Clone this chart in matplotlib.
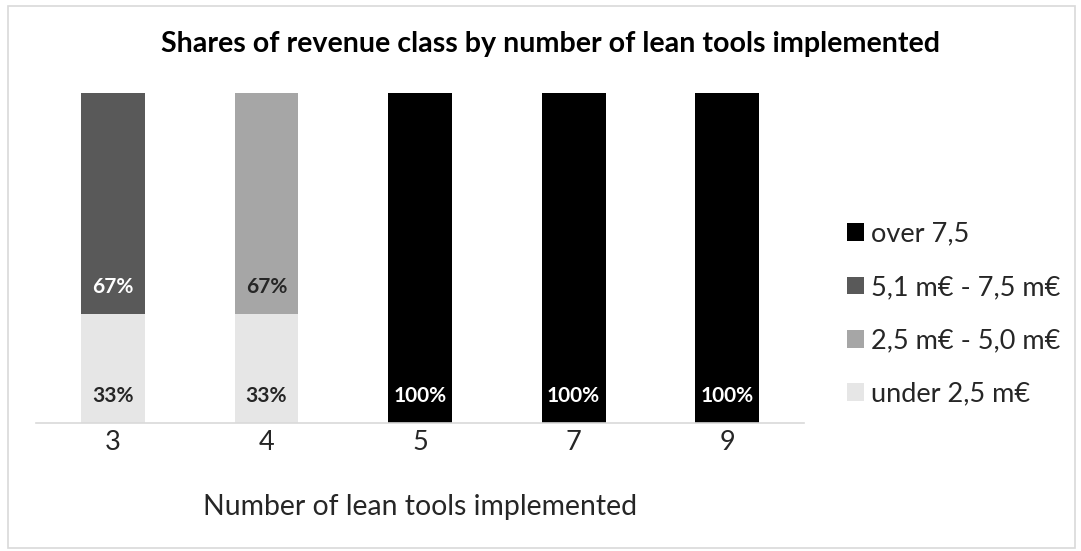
import matplotlib
matplotlib.use("Agg")
import matplotlib.pyplot as plt
from matplotlib.patches import Rectangle
import numpy as np

plt.rcParams['font.family'] = ['Lato', 'DejaVu Sans']

# data
categories = ['3', '4', '5', '7', '9']
series_names = ['under 2,5 m€', '2,5 m€ - 5,0 m€', '5,1 m€ - 7,5 m€', 'over 7,5']
under_25 = [33, 33, 0, 0, 0]
mid_25_50 = [0, 67, 0, 0, 0]
mid_51_75 = [67, 0, 0, 0, 0]
over_75 = [0, 0, 100, 100, 100]
colors = ['#e6e6e6', '#a6a6a6', '#595959', '#000000']
label_colors = ['#262626', '#262626', 'white', 'white']

fig = plt.figure(figsize=(10.81, 5.51), dpi=100)
ax = fig.add_axes([0.0333, 0.2323, 0.7105, 0.599])

# grey frame round the whole chart
fig.patches.append(Rectangle((0.007, 0.005), 0.987, 0.985, transform=fig.transFigure,
                             fill=False, edgecolor='#d9d9d9', linewidth=1.2))

x = np.arange(len(categories))
bottom = np.zeros(len(categories))
handles = []
for vals, name, col, lcol in zip([under_25, mid_25_50, mid_51_75, over_75], series_names, colors, label_colors):
    vals = np.array(vals, dtype=float)
    b = ax.bar(x, vals, 0.415, bottom=bottom, color=col, label=name)
    handles.append(b)
    for xi, v, bt in zip(x, vals, bottom):
        if v > 0:
            ax.text(xi, bt + 8.3, '%d%%' % v, ha='center', va='center',
                    fontsize=15, fontweight='bold', color=lcol)
    bottom += vals

ax.set_xlim(-0.5, len(categories) - 0.5)
ax.set_ylim(0, 100)
ax.set_xticks(x)
ax.set_xticklabels(categories, fontsize=19.5, color='#262626')
ax.tick_params(axis='x', length=0, pad=5)
ax.set_yticks([])
for s in ['left', 'right', 'top']:
    ax.spines[s].set_visible(False)
ax.spines['bottom'].set_color('#d9d9d9')
ax.spines['bottom'].set_linewidth(1.2)

ax.set_xlabel('Number of lean tools implemented', fontsize=20.4, color='#262626')
ax.xaxis.label.set_va('center')
ax.xaxis.set_label_coords(0.5, -0.254)

fig.text(0.5088, 0.921, 'Shares of revenue class by number of lean tools implemented',
         ha='center', va='center', fontsize=20.6, fontweight='bold', color='#000000')

leg = ax.legend(handles[::-1], series_names[::-1], loc='center left', bbox_to_anchor=(1.056, 0.33),
                frameon=False, fontsize=19.5, handlelength=0.62, handleheight=0.62,
                labelspacing=1.05, handletextpad=0.25, borderpad=0, borderaxespad=0)
for t in leg.get_texts():
    t.set_color('#262626')

fig.savefig('out.png', dpi=100)
